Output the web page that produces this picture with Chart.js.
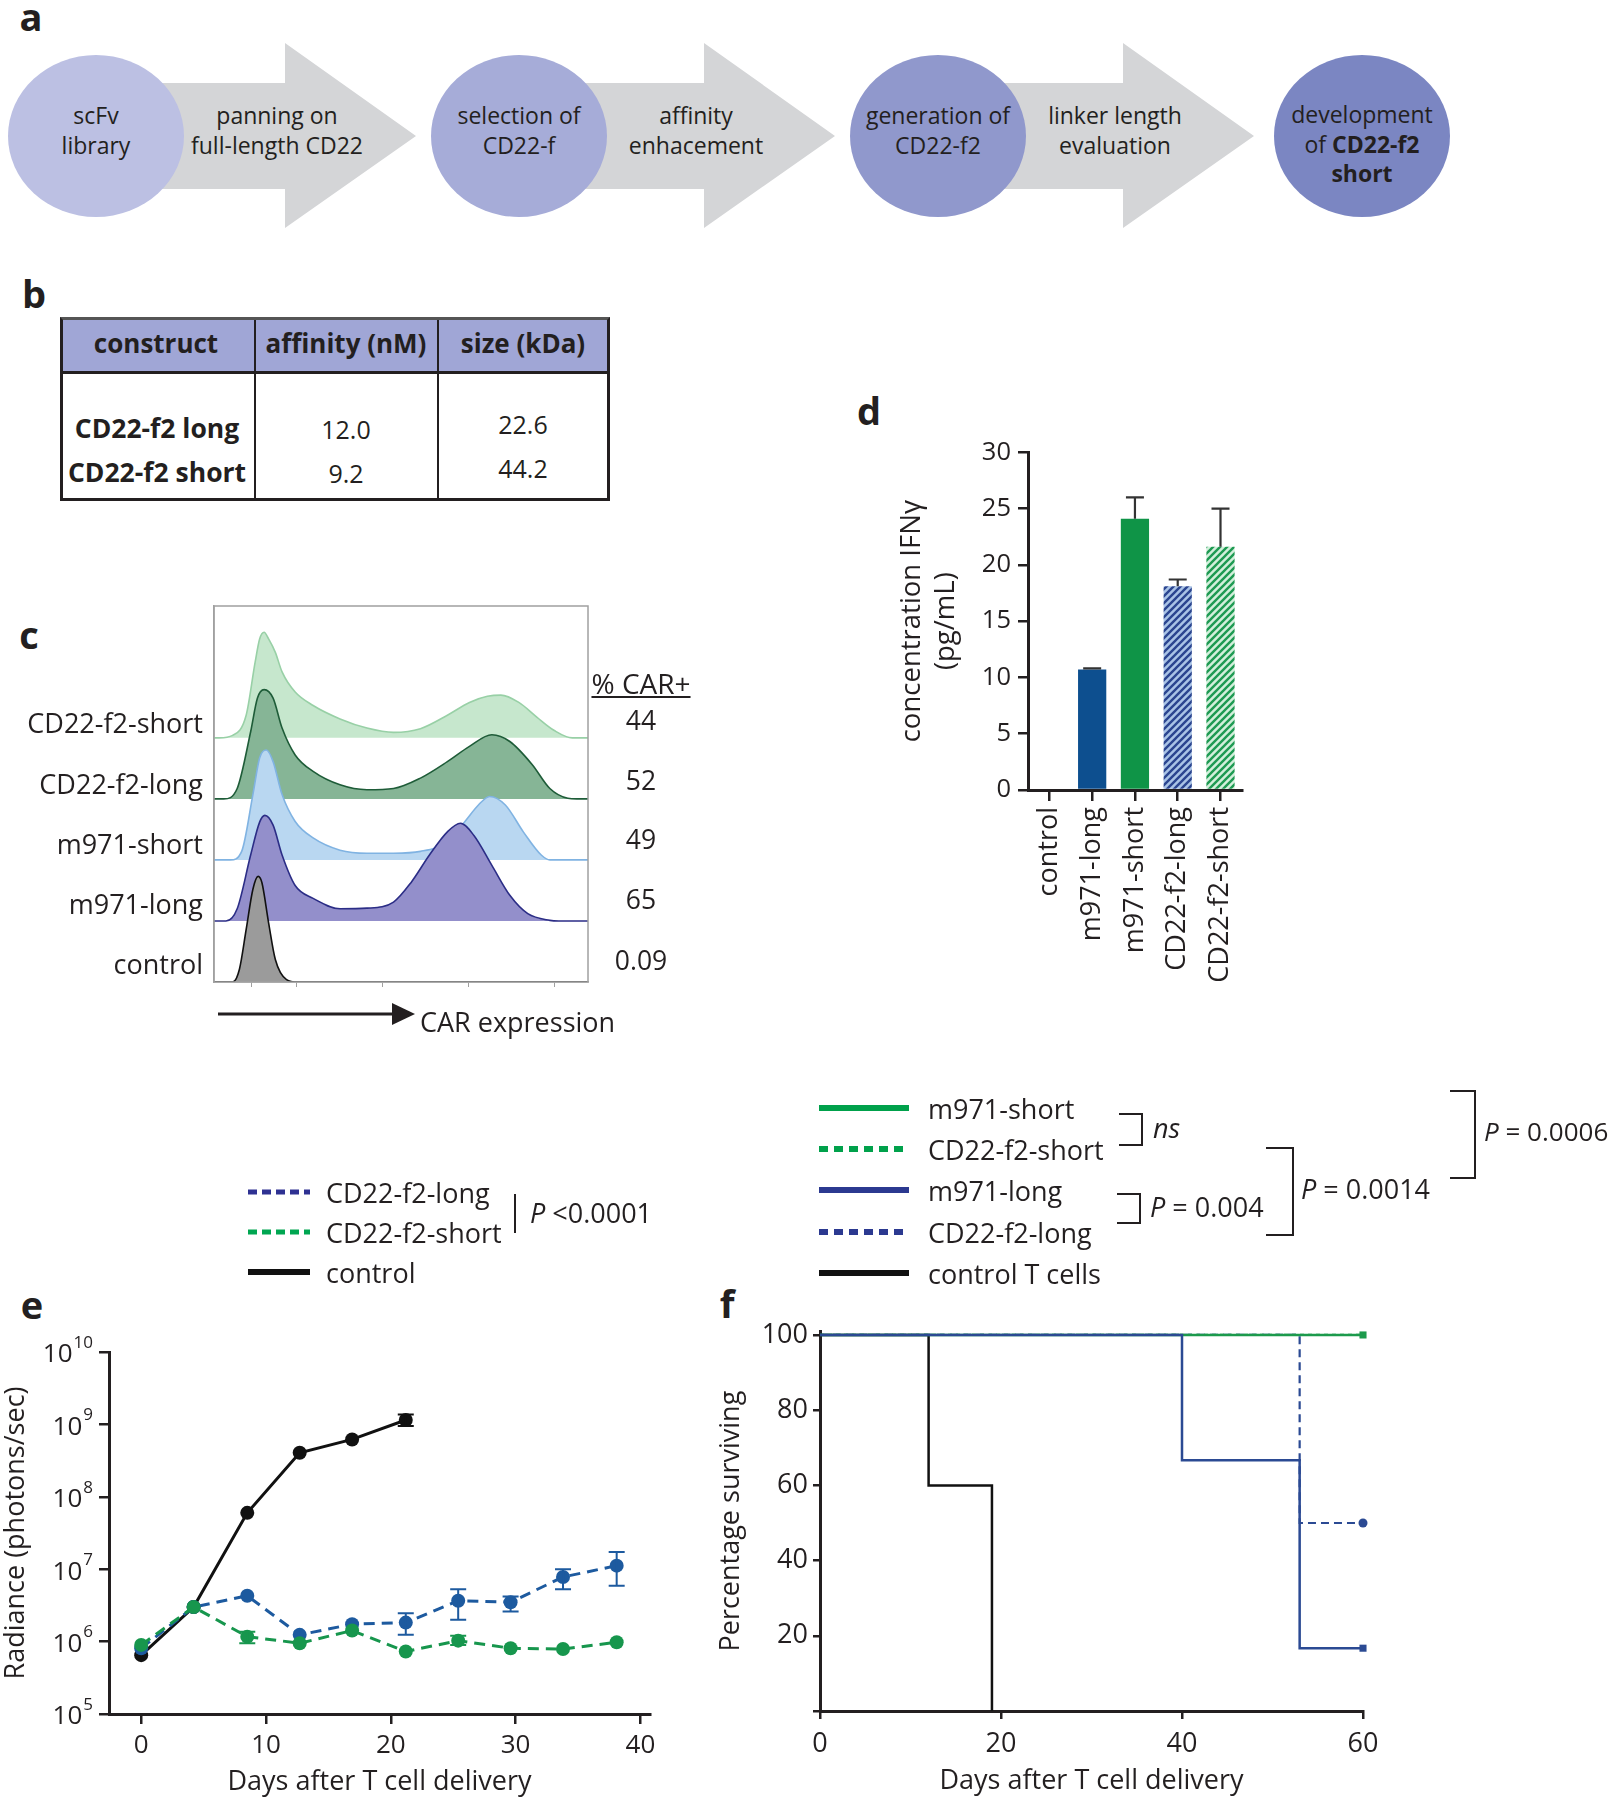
<!DOCTYPE html>
<html><head><meta charset="utf-8">
<script src="https://cdn.jsdelivr.net/npm/chart.js@4.4.0/dist/chart.umd.min.js"></script>
<style>
html,body{margin:0;padding:0;background:#fff;}
#fig{position:relative;width:1612px;height:1800px;overflow:hidden;font-family:'Open Sans','Noto Sans',sans-serif;color:#231f20;}
.t{position:absolute;white-space:nowrap;line-height:1;}
canvas{position:absolute;}
svg{position:absolute;left:0;top:0;}
</style></head>
<body><div id="fig"></div>
<script>
// ================= DATA =================
// Panel a
const flowSteps = [['scFv','library'], ['selection of','CD22-f'], ['generation of','CD22-f2'], ['development','of <b>CD22-f2</b>','<b>short</b>']];
const flowActions = [['panning on','full-length CD22'], ['affinity','enhacement'], ['linker length','evaluation']];
// Panel b
const tableHeader = ['construct','affinity (nM)','size (kDa)'];
const tableConstructs = ['CD22-f2 long','CD22-f2 short'];
const tableAffinity = ['12.0','9.2'];
const tableSize = ['22.6','44.2'];
// Panel c (histograms; x = CAR expression, arbitrary 0-100; h = relative count, 10 = row height)
const histCategories = ['CD22-f2-short','CD22-f2-long','m971-short','m971-long','control'];
const pctCarPositive = ['44','52','49','65','0.09'];
const histX_f2Short = [0,1.4,5,8.6,11,12.2,13.4,14.6,16.4,18.2,21.7,26.5,33.7,40.9,48,55.2,62.4,68.3,73.1,76.7,81.5,86.3,91,95.8,100];
const histH_f2Short = [0,0,0.4,3.7,12.4,16.2,17.3,16.2,14,10.8,7.5,5.3,3.1,1.6,0.9,1.5,3.7,5.8,6.8,7.0,5.8,3.4,1.2,0,0];
const histX_f2Long = [0,2.6,6.2,9.8,11.6,13.4,15.8,18.2,21.7,26.5,33.7,40.9,48,55.2,62.4,68.3,74.3,79.1,85.1,89.8,94.6,97,100];
const histH_f2Long = [0,0,1.7,11,16.5,17.9,16.5,11.6,7.2,4.5,2.3,1.5,1.7,3.4,6.1,8.6,10.5,9.4,5.6,1.7,0.1,0,0];
const histX_m971Short = [0,4.4,7.4,10.4,12.2,14,15.8,18.2,21.7,26.5,33.7,40.9,48,55.2,62.4,67.1,70.7,73.7,77.9,82.7,87.5,89.8,100];
const histH_m971Short = [0,0,1.4,10.7,16.7,18,16.1,10.7,6.3,3.6,1.6,1.1,1.1,1.4,3.0,6.3,9.0,10.4,9.0,4.6,0.8,0,0];
const histX_m971Long = [0,3.2,6.2,9.8,12.2,13.6,15.8,18.2,21.7,26.5,33.7,40.9,48,52.8,57.6,62.4,65.9,69.5,74.3,79.1,83.9,89.8,92.2,100];
const histH_m971Long = [0,0,2,10.8,16.2,17.3,15.7,10.8,5.8,3.7,2.0,2.1,3.1,6.4,10.8,14.6,16,14,9.1,4.2,1.2,0.1,0,0];
const histX_control = [0,5,6.8,8.6,10.4,11.8,12.8,14.6,16.4,19.4,22.3,100];
const histH_control = [0,0,2.1,8.6,15.2,17.3,16.3,9.7,3.7,0.4,0,0];
const histAxisTicks = [10,22,45,68,91];
// Panel d
const ifnCategories = ['control','m971-long','m971-short','CD22-f2-long','CD22-f2-short'];
const ifnMean = [0, 10.7, 24.1, 18.1, 21.6];
const ifnErrUpper = [null, 10.8, 26.0, 18.7, 25.0];
const ifnTicks = [0,5,10,15,20,25,30];
// Panel e
const radianceDays = [0, 4.2, 8.5, 12.7, 16.9, 21.2, 25.4, 29.6, 33.8, 38.1];
const radianceControl = [6.5e5, 3.0e6, 6.0e7, 4.05e8, 6.2e8, 1.15e9];
const radianceControlLow = [null, null, null, null, null, 9.5e8];
const radianceControlHigh = [null, null, null, null, null, 1.37e9];
const radianceF2Long = [8.1e5, 3.0e6, 4.3e6, 1.24e6, 1.74e6, 1.83e6, 3.66e6, 3.5e6, 7.8e6, 1.12e7];
const radianceF2LongLow = [null, null, null, null, null, 1.24e6, 2.0e6, 2.6e6, 5.3e6, 5.9e6];
const radianceF2LongHigh = [null, null, null, null, null, 2.47e6, 5.3e6, 4.2e6, 1.0e7, 1.73e7];
const radianceF2Short = [9.0e5, 3.0e6, 1.17e6, 9.5e5, 1.42e6, 7.3e5, 1.03e6, 8.1e5, 7.9e5, 9.8e5];
const radianceF2ShortLow = [null, null, 9.5e5, null, null, null, 9.0e5, null, null, null];
const radianceF2ShortHigh = [null, null, 1.37e6, null, null, null, 1.2e6, null, null, null];
const radianceYTicks = [1e5, 1e6, 1e7, 1e8, 1e9, 1e10];
const radianceXTicks = [0, 10, 20, 30, 40];
const eLegendLabels = ['CD22-f2-long', 'CD22-f2-short', 'control'];
// Panel f
const survDays_m971Short = [0, 60];   const surv_m971Short = [100, 100];
const survDays_f2Short   = [0, 60];   const surv_f2Short   = [100, 100];
const survDays_m971Long  = [0, 40, 53, 60]; const surv_m971Long = [100, 66.7, 16.7, 16.7];
const survDays_f2Long    = [0, 53, 60];     const surv_f2Long   = [100, 50, 50];
const survDays_control   = [0, 12, 19];     const surv_control  = [100, 60, 0];
const survYTicks = [0, 20, 40, 60, 80, 100];
const survXTicks = [0, 20, 40, 60];
const fLegendLabels = ['m971-short', 'CD22-f2-short', 'm971-long', 'CD22-f2-long', 'control T cells'];

// ================= HELPERS =================
const FONT = "'Open Sans','Noto Sans',sans-serif";
const INK = '#231f20';
const fig = document.getElementById('fig');
function txt(s, x, y, o = {}) {
  const d = document.createElement('div');
  d.className = 't';
  d.innerHTML = s;
  d.style.left = x + 'px'; d.style.top = y + 'px';
  d.style.fontSize = (o.size || 25) + 'px';
  if (o.bold) d.style.fontWeight = '700';
  if (o.italic) d.style.fontStyle = 'italic';
  if (o.underline) d.style.textDecoration = 'underline';
  const ax = o.align === 'center' ? '-50%' : o.align === 'right' ? '-100%' : '0';
  d.style.transform = `translate(${ax},-50%)`;
  fig.appendChild(d);
  return d;
}
function mkCanvas(left, top, w, h) {
  const c = document.createElement('canvas');
  c.width = w; c.height = h;
  c.style.left = left + 'px'; c.style.top = top + 'px';
  c.style.width = w + 'px'; c.style.height = h + 'px';
  fig.appendChild(c);
  return c;
}
Chart.defaults.font.family = FONT;
Chart.defaults.color = INK;
Chart.defaults.animation = false;
Chart.defaults.plugins.legend.display = false;
Chart.defaults.plugins.tooltip.enabled = false;

const errorBars = {
  id: 'errorBars',
  afterDatasetsDraw(chart) {
    const ctx = chart.ctx;
    chart.data.datasets.forEach((ds, i) => {
      if (!ds.errHigh && !ds.errLow) return;
      const meta = chart.getDatasetMeta(i);
      const ys = chart.scales[meta.yAxisID];
      ctx.save();
      ctx.strokeStyle = ds.errColor; ctx.lineWidth = ds.errWidth; ctx.setLineDash([]);
      meta.data.forEach((el, j) => {
        const hi = ds.errHigh ? ds.errHigh[j] : null;
        const lo = ds.errLow ? ds.errLow[j] : null;
        const cw = ds.errCap, x = el.x, y0 = el.y;
        ctx.beginPath();
        [hi, lo].forEach(v => {
          if (v == null) return;
          const y = ys.getPixelForValue(v);
          ctx.moveTo(x, y0); ctx.lineTo(x, y);
          ctx.moveTo(x - cw, y); ctx.lineTo(x + cw, y);
        });
        ctx.stroke();
      });
      ctx.restore();
    });
  }
};
const frameBox = {
  id: 'frameBox',
  afterDraw(chart, args, opts) {
    if (!opts.color) return;
    const a = chart.chartArea, ctx = chart.ctx;
    ctx.save(); ctx.strokeStyle = opts.color; ctx.lineWidth = opts.width;
    ctx.strokeRect(a.left, a.top, a.right - a.left, a.bottom - a.top);
    ctx.restore();
  }
};
const powerLabels = {
  id: 'powerLabels',
  afterDraw(chart, args, opts) {
    if (!opts.on) return;
    const s = chart.scales.y, ctx = chart.ctx;
    ctx.save(); ctx.fillStyle = INK; ctx.textBaseline = 'middle';
    s.ticks.forEach(t => {
      const y = s.getPixelForValue(t.value);
      const e = String(Math.round(Math.log10(t.value)));
      ctx.font = `17px ${FONT}`;
      const ew = ctx.measureText(e).width;
      const right = s.right - 16;
      ctx.textAlign = 'left';
      ctx.fillText(e, right - ew, y - 9);
      ctx.font = `26px ${FONT}`; ctx.textAlign = 'right';
      ctx.fillText('10', right - ew - 1, y + 3);
    });
    ctx.restore();
  }
};
function fixW(w) { return s => { s.width = w; }; }
function fixH(h) { return s => { s.height = h; }; }
function setTicks(arr) { return s => { s.ticks = arr.map(v => ({ value: v })); }; }

// ================= PANEL LABELS =================
[['a', 31, 16], ['b', 34, 293], ['c', 29, 634], ['d', 869, 410], ['e', 32, 1304], ['f', 727, 1303]]
  .forEach(([l, x, y]) => txt(l, x, y, { size: 38, bold: true, align: 'center' }));

// ================= PANEL A =================
(function () {
  const cx = [96, 519, 938, 1362], cy = 136;
  const cols = ['#bcc0e3', '#a6acd8', '#9098cc', '#7b86c2'];
  const heads = [285, 704, 1123];
  let s = '<svg width="1612" height="250">';
  heads.forEach((h, i) => {
    const b = cx[i] + 20, tip = h + 131;
    s += `<polygon fill="#d4d5d7" points="${b},83 ${h},83 ${h},43 ${tip},${cy} ${h},228 ${h},189 ${b},189"/>`;
  });
  cx.forEach((x, i) => { s += `<ellipse cx="${x}" cy="${cy}" rx="88" ry="81" fill="${cols[i]}"/>`; });
  s += '</svg>';
  fig.insertAdjacentHTML('beforeend', s);
  flowSteps.forEach((lines, i) => {
    const ys = lines.length === 2 ? [115, 145] : [114, 144, 173];
    lines.forEach((l, k) => txt(l, cx[i], ys[k], { size: 23, align: 'center' }));
  });
  flowActions.forEach((lines, i) => {
    lines.forEach((l, k) => txt(l, heads[i] - 8, [115, 145][k], { size: 23, align: 'center' }));
  });
})();

// ================= PANEL B =================
(function () {
  const tb = document.createElement('div');
  tb.style.cssText = 'position:absolute;left:60px;top:317px;width:550px;height:184px;border:3px solid #231f20;border-top-color:#555;box-sizing:border-box;';
  tb.innerHTML = '<div style="position:absolute;left:0;top:0;right:0;height:51px;background:#a0a6d6;border-bottom:3px solid #231f20"></div>' +
    '<div style="position:absolute;left:191px;top:0;bottom:0;width:2px;background:#231f20"></div>' +
    '<div style="position:absolute;left:374px;top:0;bottom:0;width:2px;background:#231f20"></div>';
  fig.appendChild(tb);
  const colX = [156, 346, 523];
  tableHeader.forEach((h, i) => txt(h, colX[i], 343, { size: 26, bold: true, align: 'center' }));
  const rowY = [428, 472];
  tableConstructs.forEach((c, i) => txt(c, colX[0] + 1, rowY[i], { size: 26.5, bold: true, align: 'center' }));
  tableAffinity.forEach((v, i) => txt(v, colX[1], rowY[i] + 1, { size: 25, align: 'center' }));
  tableSize.forEach((v, i) => txt(v, colX[2], rowY[i] - 4, { size: 25, align: 'center' }));
})();

// ================= PANEL C =================
(function () {
  const xs = [histX_f2Short, histX_f2Long, histX_m971Short, histX_m971Long, histX_control];
  const hs = [histH_f2Short, histH_f2Long, histH_m971Short, histH_m971Long, histH_control];
  const fills = ['#c6e7cd', '#86b596', '#b9d7f1', '#938fcb', '#9b9b9b'];
  const lines = ['#98d0a6', '#1e5c38', '#80b3e2', '#2b2d86', '#111111'];
  const n = histCategories.length;
  const datasets = [];
  for (let i = n - 1; i >= 0; i--) {
    const base = (n - 1 - i) * 10;
    datasets.push({
      label: histCategories[i],
      data: xs[i].map((x, k) => ({ x, y: base + hs[i][k] })),
      fill: { value: base },
      backgroundColor: fills[i], borderColor: lines[i], borderWidth: 1.6,
      pointRadius: 0, cubicInterpolationMode: 'monotone'
    });
  }
  const c = mkCanvas(200, 590, 400, 410);
  new Chart(c, {
    type: 'line',
    data: { datasets },
    plugins: [frameBox],
    options: {
      responsive: false, devicePixelRatio: 1,
      layout: { padding: { left: 14, top: 16, right: 12, bottom: 8 } },
      plugins: { frameBox: { color: '#a0a0a0', width: 1.5 } },
      scales: {
        x: { type: 'linear', min: 0, max: 100, afterFit: fixH(10), afterBuildTicks: setTicks(histAxisTicks),
             ticks: { display: false }, grid: { display: true, drawOnChartArea: false, drawTicks: true, tickLength: 5, color: '#a0a0a0' },
             border: { display: true, color: '#a0a0a0', width: 1.5 } },
        y: { type: 'linear', min: 0, max: 61.6, afterFit: fixW(0), ticks: { display: false },
             grid: { display: false }, border: { display: true, color: '#a0a0a0', width: 1.5 } }
      }
    }
  });
  const labY = [722, 783, 843, 903, 963];
  histCategories.forEach((l, i) => txt(l, 203, labY[i], { size: 27, align: 'right' }));
  txt('% CAR+', 641, 683, { size: 28, align: 'center', underline: true });
  const valY = [720, 780, 839, 899, 960];
  pctCarPositive.forEach((v, i) => txt(v, 641, valY[i], { size: 26.5, align: 'center' }));
  fig.insertAdjacentHTML('beforeend',
    '<svg width="1612" height="1800" style="pointer-events:none"><line x1="218" y1="1014" x2="396" y2="1014" stroke="#231f20" stroke-width="3"/>' +
    '<polygon points="392,1003 415,1014 392,1025" fill="#231f20"/></svg>');
  txt('CAR expression', 420, 1021, { size: 27 });
})();

// ================= PANEL D =================
(function () {
  function hatch(bg, fg) {
    const p = document.createElement('canvas'); p.width = 7; p.height = 7;
    const g = p.getContext('2d');
    g.fillStyle = bg; g.fillRect(0, 0, 7, 7);
    g.strokeStyle = fg; g.lineWidth = 2.4;
    g.beginPath();
    g.moveTo(-1, 8); g.lineTo(8, -1);
    g.moveTo(-4, 4); g.lineTo(4, -4);
    g.moveTo(3, 11); g.lineTo(11, 3);
    g.stroke();
    return g.createPattern(p, 'repeat');
  }
  const c = mkCanvas(840, 430, 420, 580);
  new Chart(c, {
    type: 'bar',
    data: {
      labels: ifnCategories,
      datasets: [{
        data: ifnMean,
        backgroundColor: ['#0d4f8f', '#0d4f8f', '#0f9447', hatch('#a9c3e6', '#2b4590'), hatch('#d2efdb', '#1e9a52')],
        borderWidth: 0, barPercentage: 0.66, categoryPercentage: 1,
        errHigh: ifnErrUpper, errColor: '#333', errWidth: 2.2, errCap: 9
      }]
    },
    plugins: [errorBars],
    options: {
      responsive: false, devicePixelRatio: 1,
      layout: { padding: { left: 0, top: 22, right: 11, bottom: 0 } },
      scales: {
        x: { afterFit: fixH(220), grid: { display: true, offset: false, drawOnChartArea: false, drawTicks: true, tickLength: 11, color: INK, lineWidth: 2.5 },
             border: { display: true, color: INK, width: 3 },
             ticks: { autoSkip: false, minRotation: 90, maxRotation: 90, padding: 6, font: { size: 27 }, color: INK } },
        y: { min: 0, max: 30, afterFit: fixW(188), afterBuildTicks: setTicks(ifnTicks),
             grid: { display: true, drawOnChartArea: false, drawTicks: true, tickLength: 10, color: INK, lineWidth: 2.5 },
             border: { display: true, color: INK, width: 3 },
             ticks: { padding: 7, font: { size: 25.5 }, color: INK },
             title: { display: true, text: ['concentration IFNγ', '(pg/mL)'], font: { size: 27.5, lineHeight: 1.25 }, padding: { top: 55, bottom: 0 }, color: INK } }
      }
    }
  });
})();

// ================= PANEL E =================
(function () {
  const pts = (ys) => ys.map((y, k) => ({ x: radianceDays[k], y }));
  const c = mkCanvas(0, 1330, 680, 470);
  new Chart(c, {
    type: 'line',
    data: {
      datasets: [
        { label: 'CD22-f2-short', data: pts(radianceF2Short), borderColor: '#17964d', backgroundColor: '#17964d', borderDash: [11, 7], borderWidth: 3,
          pointRadius: 7, pointBorderWidth: 0, errLow: radianceF2ShortLow, errHigh: radianceF2ShortHigh, errColor: '#17964d', errWidth: 2, errCap: 8 },
        { label: 'CD22-f2-long', data: pts(radianceF2Long), borderColor: '#1d5a9f', backgroundColor: '#1d5a9f', borderDash: [11, 7], borderWidth: 3,
          pointRadius: 7, pointBorderWidth: 0, errLow: radianceF2LongLow, errHigh: radianceF2LongHigh, errColor: '#1d5a9f', errWidth: 2, errCap: 8 },
        { label: 'control', data: pts(radianceControl), borderColor: '#111', backgroundColor: '#111', borderWidth: 3,
          pointRadius: 7, pointBorderWidth: 0, errLow: radianceControlLow, errHigh: radianceControlHigh, errColor: '#111', errWidth: 2, errCap: 8 }
      ]
    },
    plugins: [errorBars, powerLabels],
    options: {
      responsive: false, devicePixelRatio: 1,
      layout: { padding: { left: 0, top: 22, right: 30, bottom: 0 } },
      plugins: { powerLabels: { on: true } },
      scales: {
        x: { type: 'linear', min: -2.58, max: 40.77, afterFit: fixH(86), afterBuildTicks: setTicks(radianceXTicks),
             grid: { display: true, drawOnChartArea: false, drawTicks: true, tickLength: 10, color: INK, lineWidth: 2.5 },
             border: { display: true, color: INK, width: 3 },
             ticks: { padding: 6, font: { size: 26 }, color: INK, maxRotation: 0 },
             title: { display: true, text: 'Days after T cell delivery', font: { size: 27 }, padding: { top: 0, bottom: 1 }, color: INK } },
        y: { type: 'logarithmic', min: 1e5, max: 1e10, afterFit: fixW(109), afterBuildTicks: setTicks(radianceYTicks),
             grid: { display: true, drawOnChartArea: false, drawTicks: true, tickLength: 10, color: INK, lineWidth: 2.5 },
             border: { display: true, color: INK, width: 3 },
             ticks: { callback: () => '', padding: 7 },
             title: { display: true, text: 'Radiance (photons/sec)', font: { size: 27 }, padding: { top: 0, bottom: 0 }, color: INK } }
      }
    }
  });
  // legend
  const ly = [1192, 1232, 1272];
  const lc = ['#2e3192', '#00a651', '#111'];
  const dash = ['9,5', '9,5', ''];
  let s = '<svg width="1612" height="1800" style="pointer-events:none">';
  ly.forEach((y, i) => { s += `<line x1="248" y1="${y}" x2="310" y2="${y}" stroke="${lc[i]}" stroke-width="${i === 2 ? 6 : 5}" ${dash[i] ? `stroke-dasharray="${dash[i]}"` : ''}/>`; });
  s += '<line x1="515" y1="1194" x2="515" y2="1233" stroke="#231f20" stroke-width="2"/></svg>';
  fig.insertAdjacentHTML('beforeend', s);
  eLegendLabels.forEach((l, i) => txt(l, 326, ly[i], { size: 27 }));
  txt('<i>P</i> &lt;0.0001', 530, 1212, { size: 27 });
})();

// ================= PANEL F =================
(function () {
  const pts = (xs, ys) => xs.map((x, k) => ({ x, y: ys[k] }));
  const c = mkCanvas(700, 1310, 700, 490);
  const blue = '#2b4a93', green = '#1c9a4c';
  new Chart(c, {
    type: 'line',
    data: {
      datasets: [
        { label: 'm971-long', data: pts(survDays_m971Long, surv_m971Long), stepped: 'before', borderColor: blue, backgroundColor: blue, borderWidth: 2.5,
          pointStyle: 'rect', pointRadius: survDays_m971Long.map((_, k) => k === survDays_m971Long.length - 1 ? 5 : 0), pointBorderWidth: 0, clip: false },
        { label: 'm971-short', data: pts(survDays_m971Short, surv_m971Short), stepped: 'before', borderColor: green, backgroundColor: green, borderWidth: 2.5,
          pointStyle: 'rect', pointRadius: [0, 5], pointBorderWidth: 0, clip: false },
        { label: 'CD22-f2-long', data: pts(survDays_f2Long, surv_f2Long), stepped: 'before', borderColor: blue, backgroundColor: blue, borderWidth: 2.2,
          borderDash: [8, 5], pointStyle: 'circle', pointRadius: [0, 0, 4.5], pointBorderWidth: 0, clip: false },
        { label: 'CD22-f2-short', data: pts(survDays_f2Short, surv_f2Short), stepped: 'before', borderColor: green, backgroundColor: green, borderWidth: 2.2,
          borderDash: [4, 4], pointRadius: 0, clip: false },
        { label: 'control T cells', data: pts(survDays_control, surv_control), stepped: 'before', borderColor: '#111', backgroundColor: '#111', borderWidth: 2.5,
          pointRadius: 0, clip: false }
      ]
    },
    options: {
      responsive: false, devicePixelRatio: 1,
      layout: { padding: { left: 0, top: 20, right: 37, bottom: 0 } },
      scales: {
        x: { type: 'linear', min: 0, max: 60, afterFit: fixH(89), afterBuildTicks: setTicks(survXTicks),
             grid: { display: true, drawOnChartArea: false, drawTicks: true, tickLength: 8, color: INK, lineWidth: 2.5 },
             border: { display: true, color: INK, width: 3 },
             ticks: { padding: 9, font: { size: 27 }, color: INK, maxRotation: 0 },
             title: { display: true, text: 'Days after T cell delivery', font: { size: 27 }, padding: { top: 0, bottom: 2 }, color: INK } },
        y: { type: 'linear', min: 0, max: 101, afterFit: fixW(120), afterBuildTicks: setTicks(survYTicks),
             grid: { display: true, drawOnChartArea: false, drawTicks: true, tickLength: 7, color: INK, lineWidth: 2.5 },
             border: { display: true, color: INK, width: 3 },
             ticks: { padding: 5, font: { size: 27 }, color: INK, callback: v => (v === 0 ? '' : String(v)) },
             title: { display: true, text: 'Percentage surviving', font: { size: 27 }, padding: { top: 15, bottom: 0 }, color: INK } }
      }
    }
  });
  // legend + brackets
  const ly = [1108, 1149, 1190, 1232, 1273];
  const lc = ['#00a14b', '#00a14b', '#2b3990', '#2b3990', '#111'];
  const dash = ['', '9,6', '', '9,6', ''];
  let s = '<svg width="1612" height="1800" style="pointer-events:none">';
  ly.forEach((y, i) => { s += `<line x1="819" y1="${y}" x2="909" y2="${y}" stroke="${lc[i]}" stroke-width="6" ${dash[i] ? `stroke-dasharray="${dash[i]}"` : ''}/>`; });
  const br = [[1119, 1142, 1114, 1145], [1117, 1140, 1194, 1223], [1266, 1293, 1148, 1235], [1450, 1475, 1091, 1178]];
  br.forEach(([x1, x2, y1, y2]) => { s += `<polyline points="${x1},${y1} ${x2},${y1} ${x2},${y2} ${x1},${y2}" fill="none" stroke="#231f20" stroke-width="2"/>`; });
  s += '</svg>';
  fig.insertAdjacentHTML('beforeend', s);
  fLegendLabels.forEach((l, i) => txt(l, 928, ly[i], { size: 27 }));
  txt('ns', 1153, 1127, { size: 27, italic: true });
  txt('<i>P</i> = 0.004', 1150, 1206, { size: 27 });
  txt('<i>P</i> = 0.0014', 1301, 1188, { size: 27 });
  txt('<i>P</i> = 0.0006', 1484, 1131, { size: 26 });
})();
</script>
</body></html>
